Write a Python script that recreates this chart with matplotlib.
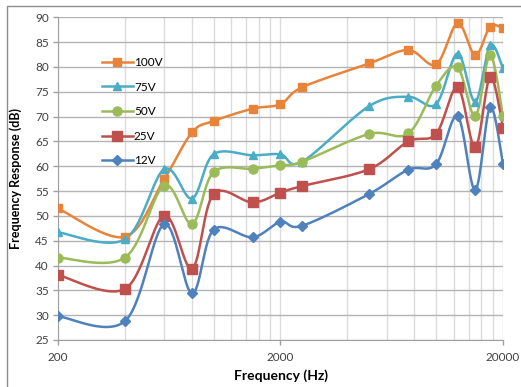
import numpy as np
import matplotlib
matplotlib.use("Agg")
import matplotlib.pyplot as plt
from matplotlib.ticker import FixedLocator, FixedFormatter, NullFormatter

plt.rcParams['font.family'] = ['Lato', 'DejaVu Sans']

freq = [200, 400, 600, 800, 1000, 1500, 2000, 2500, 5000, 7500,
        10000, 12500, 15000, 17500, 20000]

v100 = [51.5, 45.8, 57.4, 66.8, 69.1, 71.6, 72.5, 75.9, 80.7, 83.4, 80.5, 88.8, 82.4, 88.1, 87.8]
v75 = [46.7, 45.3, 59.4, 53.5, 62.4, 62.2, 62.4, 60.9, 72.1, 74.0, 72.5, 82.7, 73.0, 84.4, 79.7]
v50 = [41.6, 41.6, 56.1, 48.4, 58.8, 59.5, 60.2, 60.9, 66.5, 66.6, 76.2, 79.9, 70.1, 82.4, 70.1]
v25 = [38.1, 35.3, 50.0, 39.4, 54.4, 52.7, 54.7, 56.0, 59.4, 65.0, 66.5, 75.9, 63.8, 78.0, 67.8]
v12 = [29.8, 28.8, 48.3, 34.4, 47.2, 45.7, 48.8, 48.0, 54.4, 59.3, 60.4, 70.1, 55.2, 71.9, 60.5]

labels = ['100V', '75V', '50V', '25V', '12V']
series = [v100, v75, v50, v25, v12]
colors = ['#E8833A', '#4BACC6', '#9BBB59', '#C0504D', '#4F81BD']
markers = ['s', '^', 'o', 's', 'D']
msizes = [5.5, 5.5, 6.5, 7, 5.5]


def smooth(xs, ys, n=30):
    # excel-like smoothed line: bezier through points, done in log-x space
    px = np.log10(np.asarray(xs, float))
    py = np.asarray(ys, float)
    k = len(px)
    outx, outy = [], []
    t = np.linspace(0, 1, n)
    for i in range(k - 1):
        i0, i3 = max(i - 1, 0), min(i + 2, k - 1)
        p0 = np.array([px[i], py[i]])
        p3 = np.array([px[i + 1], py[i + 1]])
        c1 = p0 + (np.array([px[i + 1], py[i + 1]]) - np.array([px[i0], py[i0]])) / 6
        c2 = p3 - (np.array([px[i3], py[i3]]) - np.array([px[i], py[i]])) / 6
        b = ((1 - t) ** 3)[:, None] * p0 + (3 * (1 - t) ** 2 * t)[:, None] * c1 \
            + (3 * (1 - t) * t ** 2)[:, None] * c2 + (t ** 3)[:, None] * p3
        outx.append(b[:, 0])
        outy.append(b[:, 1])
    return 10 ** np.concatenate(outx), np.concatenate(outy)


fig = plt.figure(figsize=(5.21, 3.87), dpi=100)
ax = fig.add_axes([58 / 521, 1 - 340 / 387, 445 / 521, 322.7 / 387])

for lab, ys, c, m, ms in zip(labels, series, colors, markers, msizes):
    sx, sy = smooth(freq, ys)
    ax.plot(sx, sy, color=c, lw=1.8, zorder=3)
    ax.plot(freq, ys, ls='none', marker=m, color=c, ms=ms, zorder=4)
    ax.plot([], [], color=c, lw=1.8, marker=m, ms=ms, label=lab)

ax.set_xscale('log')
ax.set_xlim(200, 20000)
ax.set_ylim(25, 90)
ax.xaxis.set_major_locator(FixedLocator([200, 2000, 20000]))
ax.xaxis.set_minor_locator(FixedLocator(list(range(400, 2000, 200)) + list(range(4000, 20000, 2000))))
ax.xaxis.set_major_formatter(FixedFormatter(['200', '2000', '20000']))
ax.xaxis.set_minor_formatter(NullFormatter())
ax.set_yticks(range(25, 95, 5))

ax.grid(True, which='major', axis='y', color='#b4b4b4', lw=1)
ax.grid(True, which='both', axis='x', color='#dcdcdc', lw=1)
ax.set_axisbelow(True)
for s in ['top', 'right']:
    ax.spines[s].set_visible(False)
for s in ['left', 'bottom']:
    ax.spines[s].set_color('#a0a0a0')
ax.tick_params(axis='both', which='major', length=3.5, width=1, color='#a0a0a0',
               labelsize=8.5, labelcolor='#404040')
ax.tick_params(axis='both', which='minor', length=0)
ax.tick_params(axis='y', pad=3)
ax.tick_params(axis='x', pad=5)

ax.set_xlabel('Frequency (Hz)', fontsize=10, fontweight='bold', labelpad=5)
ax.set_ylabel('Frequency Response (dB)', fontsize=9, fontweight='bold')
ax.yaxis.set_label_coords(-0.081, 0.5)

ax.legend(loc='upper left', bbox_to_anchor=(0.075, 0.91), frameon=False, fontsize=8.5,
          handlelength=2.6, handletextpad=0.1, labelspacing=1.15)

# chart border (right and bottom edges fall outside the picture)
fig.patches.append(plt.Rectangle((7 / 521, -10 / 387), 530 / 521, 391 / 387, transform=fig.transFigure,
                                 fill=False, edgecolor='#8c8c8c', lw=1))

fig.savefig('out.png', dpi=100)
